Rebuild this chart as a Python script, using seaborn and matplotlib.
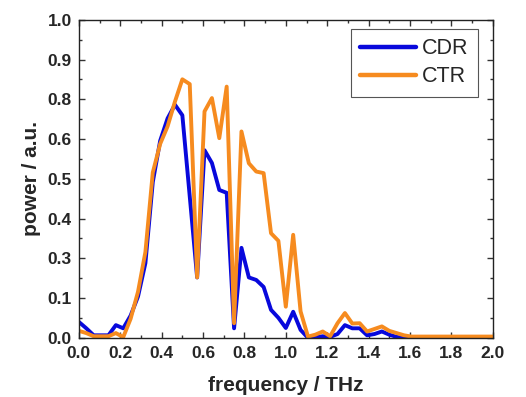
import numpy as np
import pandas as pd
import matplotlib
matplotlib.use("Agg")
import matplotlib.pyplot as plt
import seaborn as sns
from matplotlib.ticker import MultipleLocator, FixedLocator, FixedFormatter, FormatStrFormatter

# frequency grid (THz)
freq = [round(i * 0.0357, 4) for i in range(57)]

cdr = [0.050, 0.030, 0.008, 0.008, 0.008, 0.040, 0.030, 0.070, 0.130, 0.235,
       0.490, 0.620, 0.690, 0.733, 0.700, 0.445, 0.190, 0.590, 0.550, 0.465,
       0.456, 0.030, 0.283, 0.190, 0.182, 0.160, 0.088, 0.063, 0.031, 0.082,
       0.025, 0.000, 0.002, 0.005, 0.003, 0.012, 0.040, 0.030, 0.030, 0.008,
       0.012, 0.020, 0.010, 0.003, 0.000, 0.000, 0.000, 0.000, 0.000, 0.000,
       0.000, 0.000, 0.000, 0.000, 0.000, 0.000, 0.000]

ctr = [0.022, 0.015, 0.005, 0.005, 0.005, 0.015, 0.002, 0.060, 0.145, 0.270,
       0.520, 0.610, 0.665, 0.743, 0.813, 0.798, 0.190, 0.712, 0.754, 0.628,
       0.790, 0.046, 0.649, 0.549, 0.523, 0.518, 0.329, 0.305, 0.098, 0.324,
       0.083, 0.004, 0.010, 0.020, 0.005, 0.046, 0.078, 0.045, 0.046, 0.020,
       0.028, 0.036, 0.022, 0.015, 0.008, 0.004, 0.004, 0.004, 0.004, 0.004,
       0.004, 0.004, 0.004, 0.004, 0.004, 0.004, 0.004]

series_names = ["CDR", "CTR"]
colors = ["#0808dc", "#f68b1f"]

# y tick positions and the labels as printed in the chart
y_ticks = [0.0, 0.125, 0.25, 0.375, 0.5, 0.625, 0.75, 0.875, 1.0]
y_tick_labels = ["0.0", "0.1", "0.3", "0.4", "0.5", "0.6", "0.8", "0.9", "1.0"]

df = pd.DataFrame({
    "freq": freq * 2,
    "power": cdr + ctr,
    "series": [series_names[0]] * len(freq) + [series_names[1]] * len(freq),
})

sns.set_style("ticks")
plt.rcParams["font.family"] = ["Liberation Sans", "DejaVu Sans"]

fig = plt.figure(figsize=(5.26, 3.97), dpi=100)
ax = fig.add_axes([0.150, 0.149, 0.787, 0.801])

sns.lineplot(data=df, x="freq", y="power", hue="series",
             palette=dict(zip(series_names, colors)), linewidth=2.8,
             ax=ax, legend=True)

ax.set_xlim(0, 2.0)
ax.set_ylim(0, 1.0)
ax.xaxis.set_major_locator(MultipleLocator(0.2))
ax.xaxis.set_minor_locator(MultipleLocator(0.1))
ax.yaxis.set_major_locator(FixedLocator(y_ticks))
ax.yaxis.set_major_formatter(FixedFormatter(y_tick_labels))
ax.yaxis.set_minor_locator(MultipleLocator(0.0625))
ax.xaxis.set_major_formatter(FormatStrFormatter("%.1f"))

ax.tick_params(which="both", direction="in", top=True, right=True, width=1.0,
               color="#333333")
ax.tick_params(which="major", length=4.5, labelsize=12.5)
ax.tick_params(axis="x", which="major", pad=6)
ax.tick_params(axis="y", which="major", pad=5)
ax.tick_params(which="minor", length=2.5)
for lab in ax.get_xticklabels() + ax.get_yticklabels():
    lab.set_fontweight("bold")

for s in ax.spines.values():
    s.set_linewidth(1.0)
    s.set_color("#222222")

ax.set_xlabel("frequency / THz", fontsize=15, fontweight="bold", labelpad=11)
ax.set_ylabel("power / a.u.", fontsize=15, fontweight="bold", labelpad=5)

handles, labels = ax.get_legend_handles_labels()
leg = ax.legend(handles, labels, loc="upper right",
                bbox_to_anchor=(0.964, 0.972), borderaxespad=0,
                fontsize=15.5, handlelength=2.6, frameon=True, fancybox=False,
                edgecolor="#555555", framealpha=1, borderpad=0.45,
                labelspacing=0.32, handletextpad=0.25)
leg.get_frame().set_linewidth(0.8)
for line in leg.get_lines():
    line.set_linewidth(3.2)

fig.savefig("out.png", dpi=100)
